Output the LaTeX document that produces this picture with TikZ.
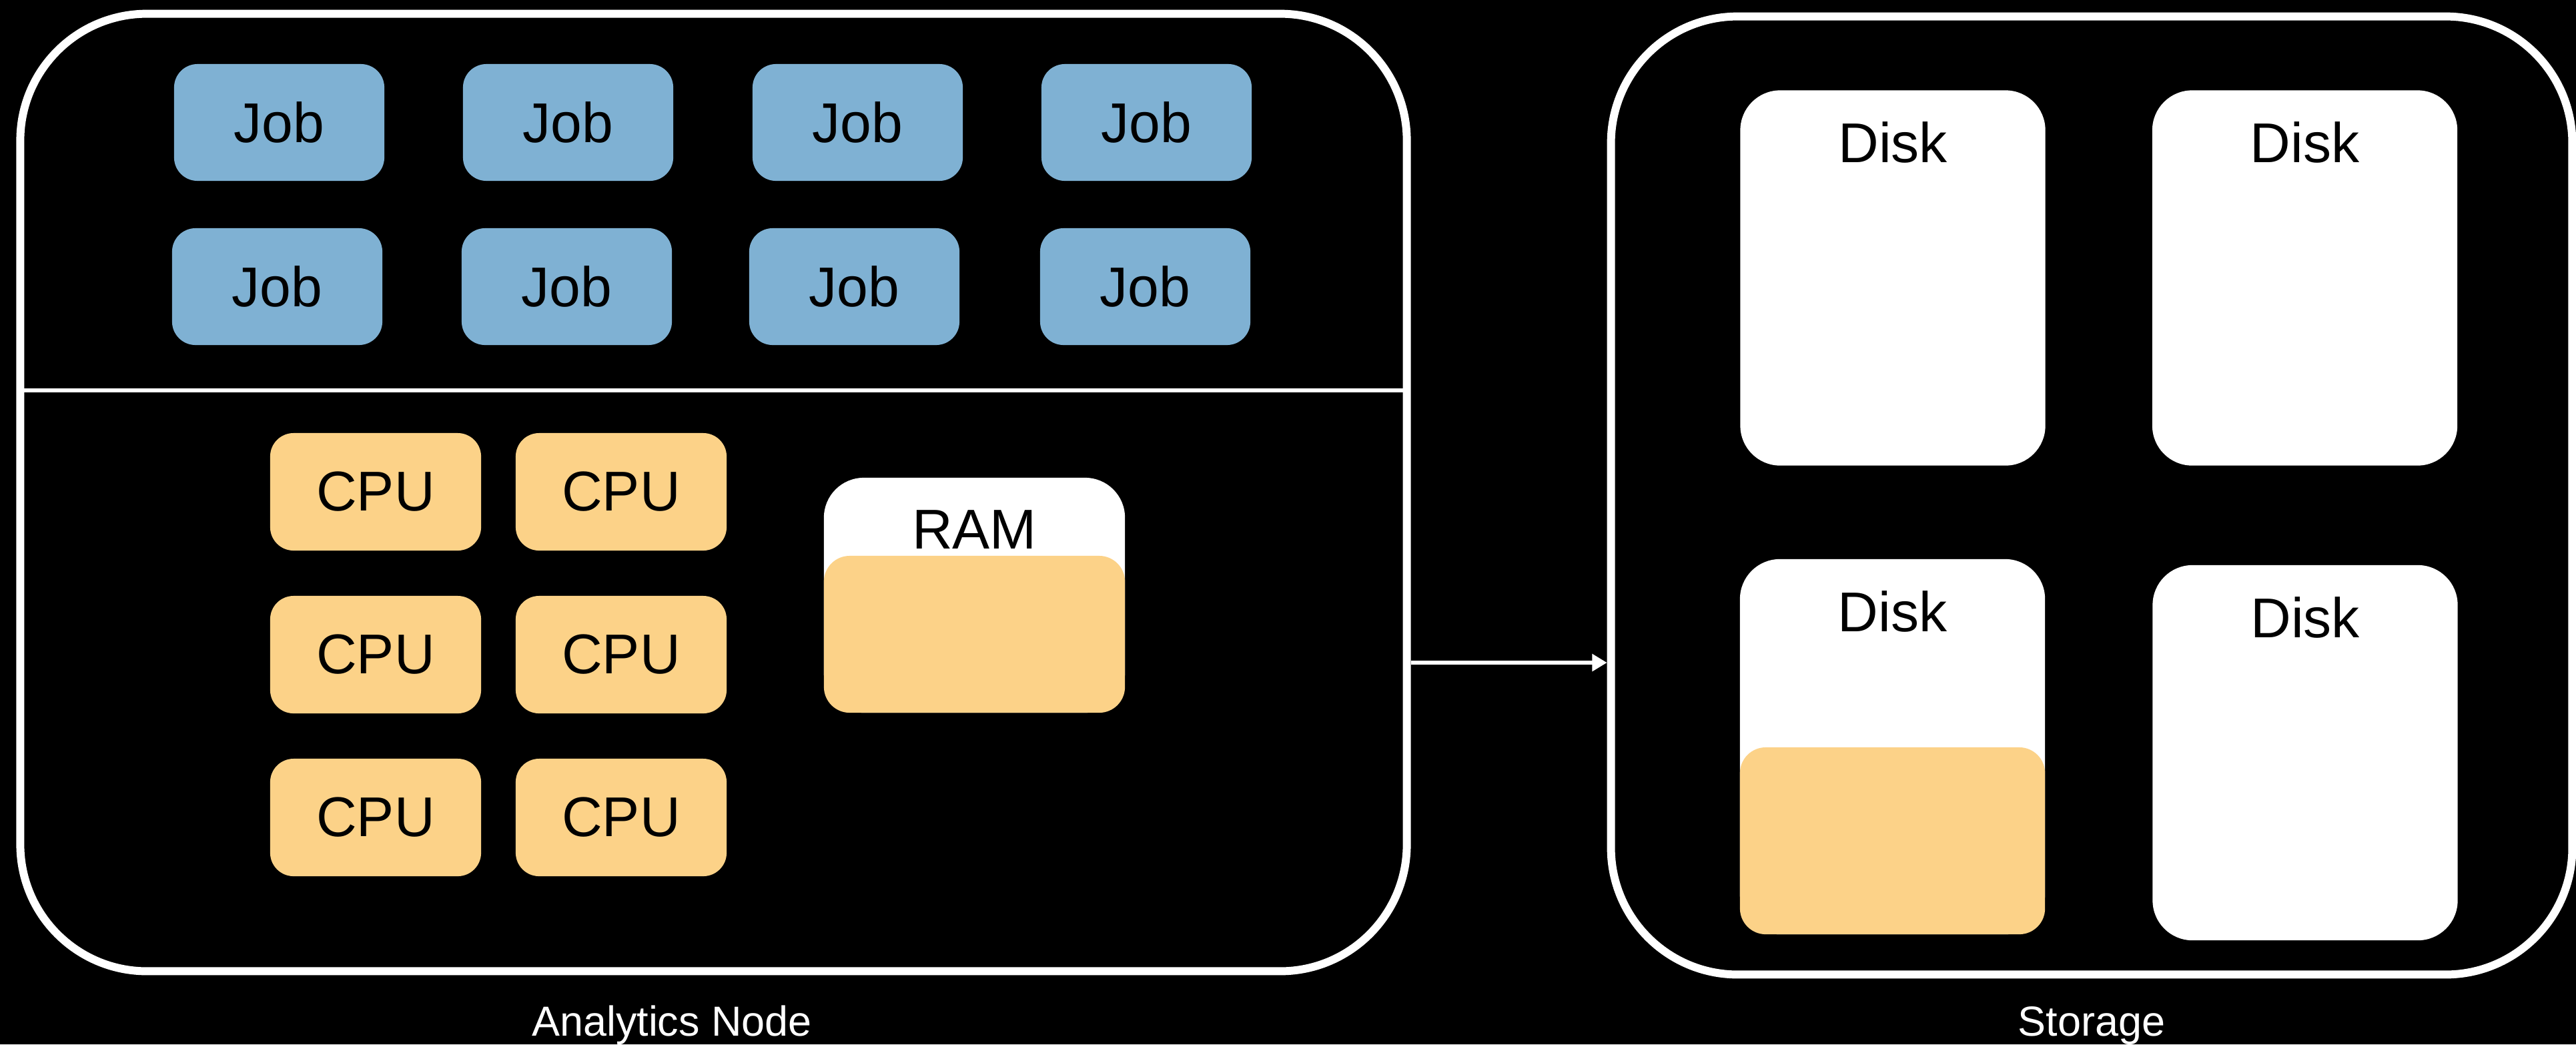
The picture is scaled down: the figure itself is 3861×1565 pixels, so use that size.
\documentclass[tikz,border=0pt]{standalone}
\usepackage{fontspec}
\setmainfont{Liberation Sans}
\usetikzlibrary{arrows.meta}
\definecolor{jobblue}{RGB}{127,177,211}
\definecolor{cpuorange}{RGB}{252,210,136}
\begin{document}
\begin{tikzpicture}[x=0.01cm,y=-0.01cm,
  outerbox/.style={draw=white, line width=3.4pt, rounded corners=54pt, inner sep=0pt},
  boxfont/.style={font=\fontsize{23.9}{28}\selectfont, text=black},
  jobbox/.style={fill=jobblue, rounded corners=10pt, minimum width=3.15cm, minimum height=1.75cm, inner sep=0pt, boxfont},
  cpubox/.style={fill=cpuorange, rounded corners=10pt, minimum width=3.16cm, minimum height=1.76cm, inner sep=0pt, boxfont},
  diskbox/.style={fill=white, rounded corners=17pt, minimum width=4.57cm, minimum height=5.62cm, inner sep=0pt},
  usedfill/.style={fill=cpuorange, rounded corners=11pt, inner sep=0pt},
  boxtext/.style={boxfont, inner sep=0pt, anchor=base},
  caption/.style={font=\fontsize{17.9}{21}\selectfont, text=white, inner sep=0pt, anchor=base},
  link/.style={draw=white, line width=1.7pt, -{Triangle[length=6.3pt, width=7.1pt]}}
]
\fill[black] (0,0) rectangle (3861,1565);
\useasboundingbox (0,0) rectangle (3861,1565);

% outer containers
\node[outerbox, minimum width=20.77cm, minimum height=14.34cm] (analytics) at (1069.5,738) {};
\node[outerbox, minimum width=14.40cm, minimum height=14.35cm] (storage) at (3135,742.5) {};
\draw[white, line width=1.7pt] (31,585) -- (2108,585);

% jobs
\foreach \cx/\n in {418.5/1, 851.5/2, 1285.5/3, 1718.5/4}
  \node[jobbox] (jobA\n) at (\cx,183.5) {Job};
\foreach \cx/\n in {415.5/1, 849.5/2, 1280.5/3, 1716.5/4}
  \node[jobbox] (jobB\n) at (\cx,429.5) {Job};

% cpus
\foreach \cy/\r in {737/1, 981/2, 1225/3} {
  \node[cpubox] (cpuL\r) at (563,\cy) {CPU};
  \node[cpubox] (cpuR\r) at (931,\cy) {CPU};
}

% RAM
\node[fill=white, rounded corners=17pt, minimum width=4.51cm, minimum height=3.52cm, inner sep=0pt] (ram) at (1460.5,892) {};
\node[usedfill, minimum width=4.51cm, minimum height=2.35cm] (ramused) at (1460.5,950.5) {};
\node[boxtext] (ramlabel) at (1460.5,822) {RAM};

% disks
\node[diskbox] (disk1) at (2837,416.5) {};
\node[diskbox] (disk2) at (3454.5,416.5) {};
\node[diskbox] (disk3) at (2836.5,1119) {};
\node[diskbox] (disk4) at (3455,1128) {};
\node[usedfill, minimum width=4.57cm, minimum height=2.80cm] (disk3used) at (2836.5,1260) {};
\node[boxtext] (disk1label) at ([yshift=-1.09cm]disk1.north) {Disk};
\node[boxtext] (disk2label) at ([yshift=-1.09cm]disk2.north) {Disk};
\node[boxtext] (disk3label) at ([yshift=-1.09cm]disk3.north) {Disk};
\node[boxtext] (disk4label) at ([yshift=-1.09cm]disk4.north) {Disk};

% connector
\coordinate (arrowlevel) at (0,993);
\draw[link] (analytics.east |- arrowlevel) -- (storage.west |- arrowlevel);

% captions
\node[caption] (analyticslabel) at (1007,1552) {Analytics Node};
\node[caption] (storagelabel) at (3135,1552) {Storage};
\end{tikzpicture}
\end{document}
